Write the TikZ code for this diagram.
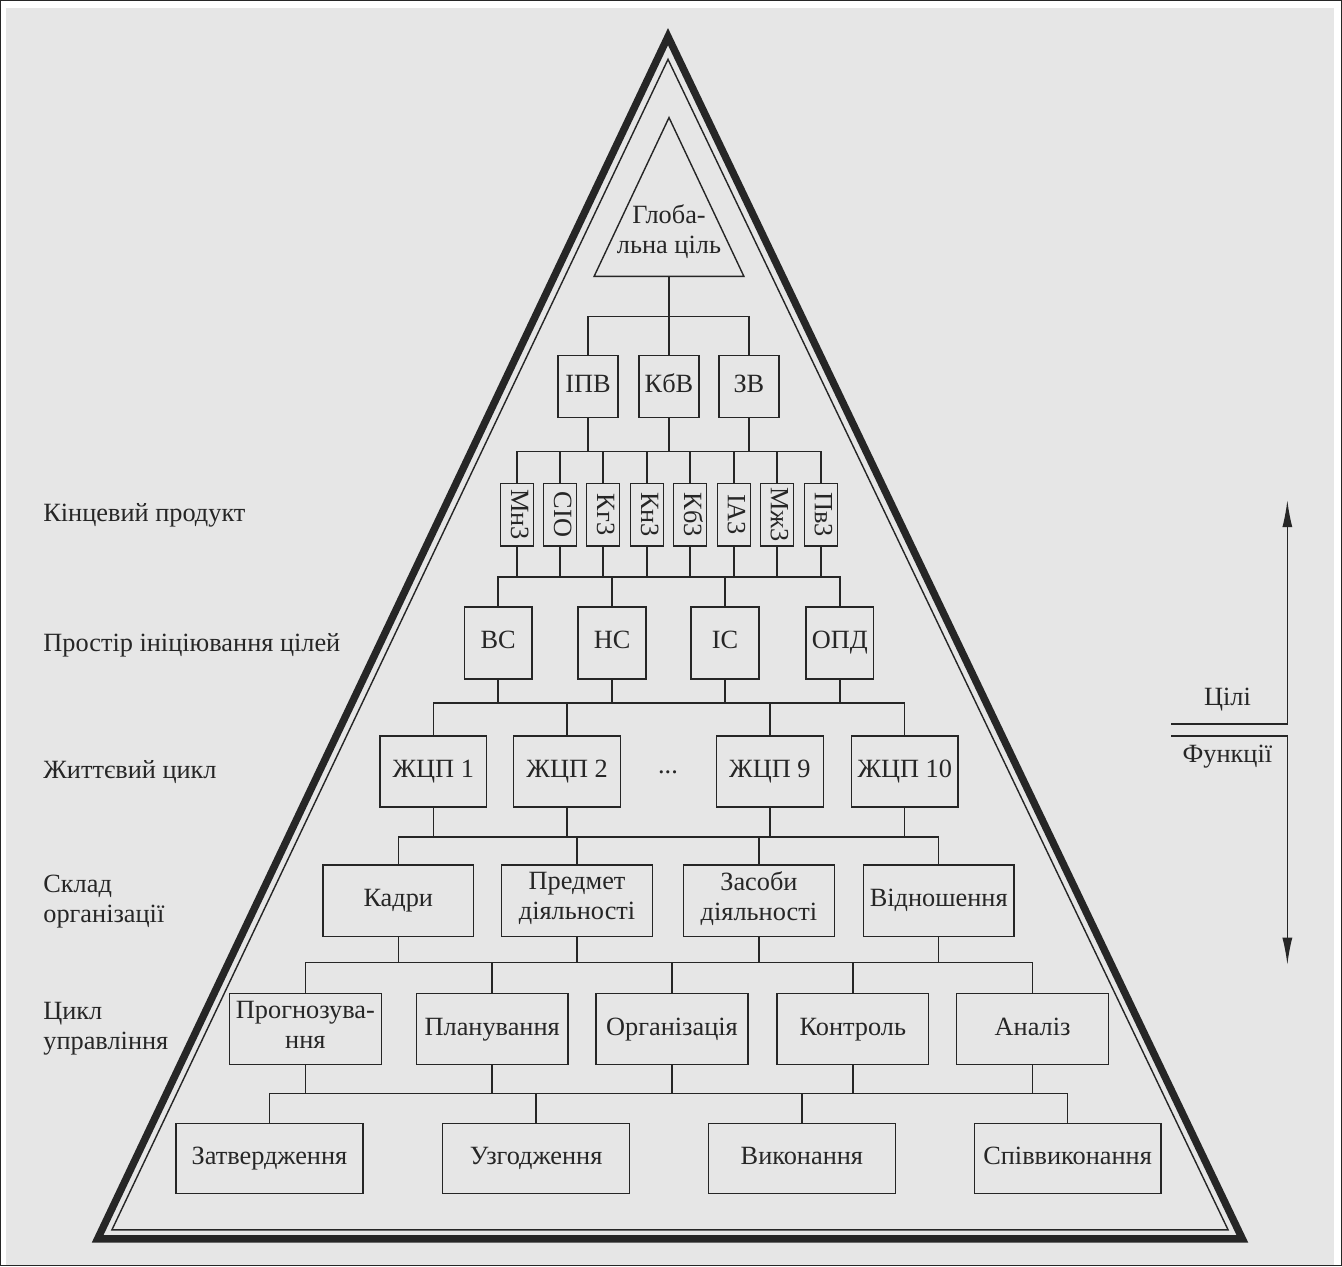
\documentclass[tikz,border=0pt]{standalone}
\usepackage{fontspec}
\setmainfont{Liberation Serif}
\newfontfamily\pyrfont{Liberation Serif}
\usetikzlibrary{arrows.meta}

\definecolor{bg}{RGB}{230,230,230}
\definecolor{ink}{RGB}{38,38,38}

\begin{document}
\begin{tikzpicture}[x=0.02cm,y=-0.02cm]
        \tikzstyle{every path}=[line width=0.8pt,draw=ink]

        \tikzstyle{box}=[draw=ink,line width=0.8pt,inner sep=0pt,align=center,
                         text=ink,font=\pyrfont\fontsize{15}{17}\selectfont,
                         execute at begin node=\strut,execute at end node=\strut]
        \tikzstyle{goalbox}=[box,minimum width=1.2cm,minimum height=1.24cm]
        \tikzstyle{taskbox}=[box,rotate=-90,minimum width=1.26cm,minimum height=0.66cm]
        \tikzstyle{spacebox}=[box,minimum width=1.36cm,minimum height=1.44cm]
        \tikzstyle{lifebox}=[box,minimum width=2.14cm,minimum height=1.42cm]
        \tikzstyle{orgbox}=[box,minimum width=3.02cm,minimum height=1.44cm]
        \tikzstyle{cyclebox}=[box,minimum width=3.04cm,minimum height=1.42cm]
        \tikzstyle{actbox}=[box,minimum width=3.74cm,minimum height=1.40cm]
        \tikzstyle{side}=[draw=none,text=ink,anchor=west,align=left,inner sep=0pt,
                          font=\pyrfont\fontsize{15}{17}\selectfont]

        % page and pyramid
        \fill[white] (0,0) rectangle (1342,1266);
        \fill[bg] (6,8) rectangle (1334,1266);
        \useasboundingbox (0,0) rectangle (1342,1266);
        \draw[line width=4.2pt,line join=miter] (668,36) -- (97,1239.5) -- (1243,1239.5) -- cycle;
        \draw (668,58.7) -- (111.3,1230.5) -- (1228.7,1230.5) -- cycle;

        % global goal
        \draw (669,117) -- (594,276) -- (744,276) -- cycle;
        \node [side,anchor=center,align=center] (g) at (669,231) {Глоба-\\льна ціль};
        \coordinate (gbase) at (669,276);

        % bus levels
        \coordinate (b1) at (0,316);
        \coordinate (b2) at (0,451);
        \coordinate (b3) at (0,577);
        \coordinate (b4) at (0,703);
        \coordinate (b5) at (0,837);
        \coordinate (b6) at (0,963);
        \coordinate (b7) at (0,1094);

        \foreach \x/\t [count=\i] in {588/ІПВ, 669/КбВ, 749/ЗВ}
            \node [goalbox] (v\i) at (\x,386) {\t};

        \foreach \x/\t [count=\i] in {517/Мн3, 560/СІО, 603/Кг3, 647/Кн3,
                                      690/Кб3, 734/ІА3, 777/Мж3, 821/Пв3}
            \node [taskbox] (z\i) at (\x,514.5) {\t};

        \foreach \x/\t [count=\i] in {498/ВС, 612/НС, 725/ІС, 840/ОПД}
            \node [spacebox] (s\i) at (\x,643) {\t};

        \foreach \x/\t [count=\i] in {433/ЖЦП 1, 567/ЖЦП 2, 770/ЖЦП 9, 905/ЖЦП 10}
            \node [lifebox] (l\i) at (\x,771.5) {\t};
        \node [side,anchor=center] (dots) at (668,772) {...};

        \foreach \x/\t [count=\i] in {398/Кадри, 577/Предмет\\діяльності,
                                      759/Засоби\\діяльності, 939/Відношення}
            \node [orgbox] (k\i) at (\x,901) {\t};

        \foreach \x/\t [count=\i] in {305/Прогнозува-\\ння, 492/Планування,
                                      672/Організація, 853/Контроль, 1033/Аналіз}
            \node [cyclebox] (f\i) at (\x,1029.5) {\t};

        \foreach \x/\t [count=\i] in {269/Затвердження, 536/Узгодження,
                                      802/Виконання, 1068/Співвиконання}
            \node [actbox] (e\i) at (\x,1159) {\t};

        % tree connectors
        \draw (gbase) -- (gbase |- b1);
        \draw (v1.north) -- (v1.north |- b1) -- (v3.north |- b1) -- (v3.north);
        \draw (v2.north) -- (v2.north |- b1);

        \foreach \i in {1,2,3} \draw (v\i.south) -- (v\i.south |- b2);
        \draw (z1.west) -- (z1.west |- b2) -- (z8.west |- b2) -- (z8.west);
        \foreach \i in {2,...,7} \draw (z\i.west) -- (z\i.west |- b2);

        \foreach \i in {1,...,8} \draw (z\i.east) -- (z\i.east |- b3);
        \draw (s1.north) -- (s1.north |- b3) -- (s4.north |- b3) -- (s4.north);
        \foreach \i in {2,3} \draw (s\i.north) -- (s\i.north |- b3);

        \foreach \i in {1,...,4} \draw (s\i.south) -- (s\i.south |- b4);
        \draw (l1.north) -- (l1.north |- b4) -- (l4.north |- b4) -- (l4.north);
        \foreach \i in {2,3} \draw (l\i.north) -- (l\i.north |- b4);

        \foreach \i in {1,...,4} \draw (l\i.south) -- (l\i.south |- b5);
        \draw (k1.north) -- (k1.north |- b5) -- (k4.north |- b5) -- (k4.north);
        \foreach \i in {2,3} \draw (k\i.north) -- (k\i.north |- b5);

        \foreach \i in {1,...,4} \draw (k\i.south) -- (k\i.south |- b6);
        \draw (f1.north) -- (f1.north |- b6) -- (f5.north |- b6) -- (f5.north);
        \foreach \i in {2,3,4} \draw (f\i.north) -- (f\i.north |- b6);

        \foreach \i in {1,...,5} \draw (f\i.south) -- (f\i.south |- b7);
        \draw (e1.north) -- (e1.north |- b7) -- (e4.north |- b7) -- (e4.north);
        \foreach \i in {2,3} \draw (e\i.north) -- (e\i.north |- b7);

        % level labels
        \node [side] (lab1) at (42,515) {Кінцевий продукт};
        \node [side] (lab2) at (42,645) {Простір ініціювання цілей};
        \node [side] (lab3) at (42,772) {Життєвий цикл};
        \node [side] (lab4) at (42,902) {Склад\\організації};
        \node [side] (lab5) at (42,1029) {Цикл\\управління};

        % goals / functions axis
        \coordinate (up) at (1288,500);
        \coordinate (down) at (1288,965);
        \coordinate (c1) at (1172,724);
        \coordinate (c2) at (1172,736);
        \draw [-{Latex[length=0.54cm,width=0.2cm]}] (c1) -- (c1 -| up) -- (up);
        \draw [-{Latex[length=0.54cm,width=0.2cm]}] (c2) -- (c2 -| down) -- (down);
        \node [side,anchor=center] (goals) at (1228,700) {Цілі};
        \node [side,anchor=center] (funcs) at (1228,757) {Функції};
\end{tikzpicture}
\end{document}
